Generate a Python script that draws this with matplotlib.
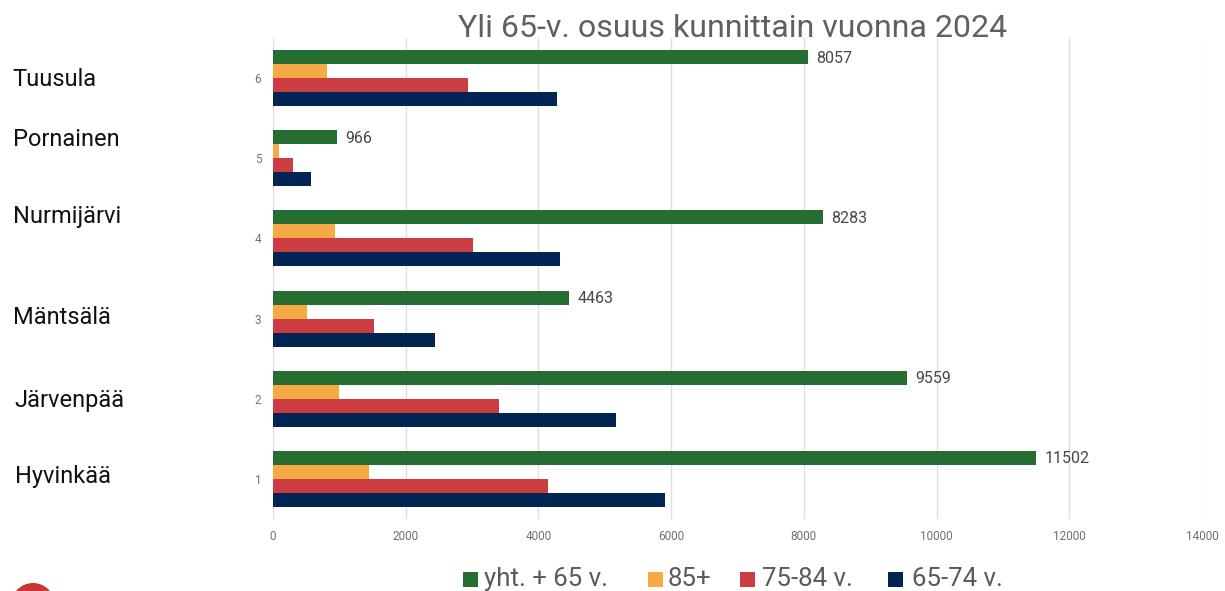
import numpy as np
import matplotlib
matplotlib.use("Agg")
import matplotlib.pyplot as plt
from matplotlib.patches import Ellipse, Rectangle

plt.rcParams["font.family"] = ["Roboto", "DejaVu Sans"]

positions = [1, 2, 3, 4, 5, 6]
kunnat = ["Hyvinkää", "Järvenpää", "Mäntsälä", "Nurmijärvi", "Pornainen", "Tuusula"]
yht = [11502, 9559, 4463, 8283, 966, 8057]
yli85 = [1445, 995, 510, 935, 85, 813]
v75_84 = [4145, 3405, 1520, 3020, 300, 2945]
v65_74 = [5905, 5165, 2440, 4330, 575, 4280]
xticks = [0, 2000, 4000, 6000, 8000, 10000, 12000, 14000]
sarjat = ["yht. + 65 v.", "85+", "75-84 v.", "65-74 v."]
varit = ["#266D32", "#F6AA43", "#CB3D40", "#022554"]

W, H = 1225, 591
fig = plt.figure(figsize=(W / 100, H / 100), dpi=100)
ax = fig.add_axes([273 / W, 1 - 519 / H, (1202 - 273) / W, (519 - 38) / H])

# sarjat ylhaalta alas
h = 0.175
y = np.array(positions)
ax.barh(y + 1.5 * h, yht, h, color=varit[0], zorder=3)
ax.barh(y + 0.5 * h, yli85, h, color=varit[1], zorder=3)
ax.barh(y - 0.5 * h, v75_84, h, color=varit[2], zorder=3)
ax.barh(y - 1.5 * h, v65_74, h, color=varit[3], zorder=3)

for yy, val in zip(y, yht):
    ax.annotate(str(val), (val, yy + 1.5 * h), xytext=(8, -1), textcoords="offset pixels",
                va="center", ha="left", fontsize=11.5, color="#474747")

ax.set_xlim(0, 14000)
ax.set_ylim(0.5, 6.5)
ax.set_xticks(xticks)
ax.set_yticks(positions)
ax.tick_params(axis="both", length=0, labelsize=8.5, labelcolor="#707070")
ax.tick_params(axis="x", pad=8)
ax.tick_params(axis="y", pad=8.5)
ax.grid(axis="x", color="#E0E0E0", linewidth=1, zorder=0)
for s in ax.spines.values():
    s.set_visible(False)

fig.text(733 / W, 1 - 28.5 / H, "Yli 65-v. osuus kunnittain vuonna 2024", ha="center", va="center",
         fontsize=23.1, color="#606060")

# kuntien nimet paalle erikseen
name_x = [15, 14, 13, 13, 13, 12.5]
name_y = [476, 400, 318, 217, 139, 79]
for nx, ny, name in zip(name_x, name_y, kunnat):
    fig.text(nx / W, 1 - ny / H, name, ha="left", va="center", fontsize=17, color="#111111")

# selite kasin, sarakkeiden valit eivat ole tasaiset
box_x = [463, 648, 740, 888]
text_x = [484, 668, 762, 912]
for bx, tx, lab, col in zip(box_x, text_x, sarjat, varit):
    fig.add_artist(Rectangle((bx / W, 1 - 587 / H), 15 / W, 15 / H, transform=fig.transFigure,
                             facecolor=col, edgecolor="none"))
    fig.text(tx / W, 1 - 586 / H, lab, ha="left", va="baseline", fontsize=18.6, color="#5A5A5A")

# punainen ympyra alhaalla vasemmalla
fig.add_artist(Ellipse((33 / W, 1 - 605 / H), 44 / W, 44 / H, transform=fig.transFigure,
                       facecolor="#CB3535", edgecolor="none"))

fig.savefig("out.png", dpi=100)
